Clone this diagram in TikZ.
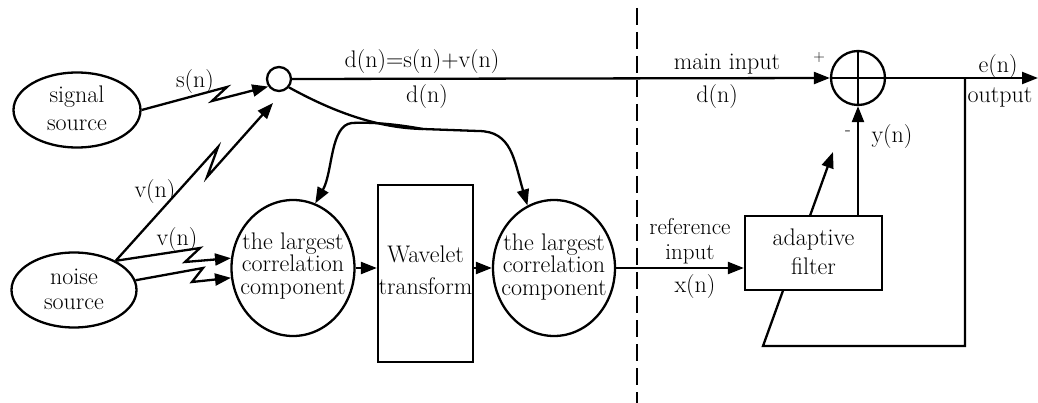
\documentclass[tikz,border=0pt]{standalone}
\usetikzlibrary{shapes.geometric,arrows.meta,calc}
\begin{document}
\begin{tikzpicture}[x=1pt,y=-1pt,
  line width=2.3pt,
  arr/.style={-{Triangle[length=16pt,width=12pt]}},
  shp/.style={draw,line width=2.3pt,ellipse,inner sep=0pt},
  boxs/.style={draw,fill=white,line width=2.3pt,inner sep=0pt},
  txt/.style={align=center,inner sep=0pt,font=\fontsize{24}{22.5}\selectfont},
  lbl/.style={inner sep=0pt,font=\fontsize{24}{24}\selectfont},
  sepline/.style={line width=2.5pt,dash pattern=on 17pt off 7pt}
]
\useasboundingbox (0,0) rectangle (1038,403);

% shapes
\node[shp,minimum width=127pt,minimum height=75pt] (sig) at (77,110) {};
\node[txt,font=\fontsize{24}{28}\selectfont] (sigt) at (77,108) {signal\\source};
\node[shp,minimum width=125pt,minimum height=75pt] (noise) at (74,290) {};
\node[txt,font=\fontsize{24}{25}\selectfont] (noiset) at (74,289) {noise\\source};
\node[draw,circle,line width=2.3pt,minimum size=24pt,inner sep=0pt] (jn) at (279,79) {};
\node[shp,minimum width=123pt,minimum height=136pt] (lc) at (293,268) {};
\node[txt] (lct) at (293,266) {the largest\\correlation\\component};
\node[boxs,minimum width=95pt,minimum height=177pt] (wav) at (425.5,273.5) {};
\node[txt,font=\fontsize{24}{32}\selectfont] (wavt) at (425.5,270) {Wavelet\\transform};
\node[shp,minimum width=122pt,minimum height=136pt] (rc) at (554,268) {};
\node[txt] (rct) at (554,267) {the largest\\correlation\\component};
\node[draw,circle,line width=2.3pt,minimum size=54pt,inner sep=0pt] (sum) at (858,78) {};
\draw (sum.north) -- (sum.south);
\draw (sum.west) -- (sum.east);

% coordinates
\coordinate (s1) at (227,87);
\coordinate (s2) at (212,101);
\coordinate (u1) at (218,147);
\coordinate (u2) at (207,177);
\coordinate (vtip) at (273,103);
\coordinate (a1) at (200,248);
\coordinate (a2) at (185,262);
\coordinate (b1) at (203,268);
\coordinate (b2) at (192,282);
\coordinate (split) at (423,129);
\coordinate (dtop) at (637,8);
\coordinate (dbot) at (637,403);
\coordinate (tap) at (965,78);
\coordinate (fb1) at (965,346);
\coordinate (fb2) at (763,346);
\coordinate (adj) at (833,152);
\coordinate (out) at (1038,78);

% input connectors
\draw[arr] (sig.east) -- (s1) -- (s2) -- (jn.215);
\draw[arr] (noise.35) -- (u1) -- (u2) -- (vtip);
\draw[arr] (noise.35) -- (a1) -- (a2) -- (lc.171);
\draw[arr] (noise.9) -- (b1) -- (b2) -- (lc.189);

% d(n) branches
\draw[arr] (jn.-40) .. controls (330,110) and (375,128) .. (split)
  -- (478,131) .. controls (512,131) and (514,160) .. (rc.113);
\draw[arr] (split) .. controls (395,124) and (372,122) .. (352,123)
  .. controls (330,125) and (333,172) .. (lc.71);

% main path
\draw[arr] (jn.east) -- (sum.west);
\draw[arr] (sum.east) -- (out);
\draw[arr] (lc.east) -- (lc.east -| wav.west);
\draw[arr] (wav.east |- rc.west) -- (rc.west);

% dashed separator
\draw[sepline] (dtop) -- (dbot);

% feedback / adaptation
\draw[arr] (tap) -- (fb1) -- (fb2) -- (adj);
\node[boxs,minimum width=137pt,minimum height=74pt] (filt) at (813.5,253) {};
\node[txt,font=\fontsize{24}{29}\selectfont] (filtt) at (813.5,252) {adaptive\\filter};
\draw[arr] (rc.east) -- (rc.east -| filt.west);
\draw[arr] (sum.south |- filt.north) -- (sum.south);

% labels
\node[lbl] (ls) at (195,82) {s(n)};
\node[lbl] (lv1) at (155,192) {v(n)};
\node[lbl] (lv2) at (177,240) {v(n)};
\node[lbl] (ld1) at (422,62) {d(n)=s(n)+v(n)};
\node[lbl] (ld2) at (427,97) {d(n)};
\node[lbl] (lmain) at (727,64) {main input};
\node[lbl] (ld3) at (717,97) {d(n)};
\node[lbl,font=\fontsize{16}{16}\selectfont] (lplus) at (819,58) {+};
\node[lbl,font=\fontsize{19}{19}\selectfont] (lminus) at (848,133) {-};
\node[lbl] (ly) at (892,137) {y(n)};
\node[lbl] (le) at (998,67) {e(n)};
\node[lbl] (lout) at (1000,97) {output};
\node[lbl,anchor=base,font=\fontsize{23}{23}\selectfont] (lref1) at (690,235) {reference};
\node[lbl,anchor=base,font=\fontsize{23}{23}\selectfont] (lref2) at (690,259) {input};
\node[lbl] (lx) at (695,287) {x(n)};
\end{tikzpicture}
\end{document}
